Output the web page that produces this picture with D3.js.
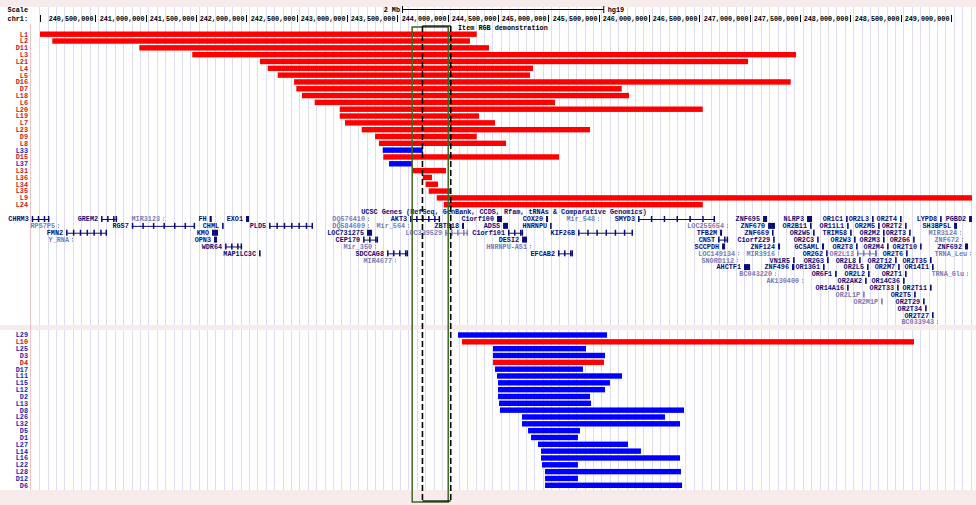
<!DOCTYPE html>
<html>
<head>
<meta charset="utf-8">
<script src="https://cdn.jsdelivr.net/npm/d3@7/dist/d3.min.js"></script>
<style>
  body { margin: 0; background: #fff; }
  svg { display: block; }
  text { font-family: 'Liberation Mono', 'DejaVu Sans Mono', monospace; font-weight: bold; }
</style>
</head>
<body>
<div id="chart"></div>
<script>
// positions are in Mb on chr1 (hg19)
const rulerTicks = [240.5, 241, 241.5, 242, 242.5, 243, 243.5, 244, 244.5, 245, 245.5, 246, 246.5, 247, 247.5, 248, 248.5, 249];

// top "Item RGB demonstration" track
const topLabels = ['L1', 'L2', 'D11', 'L3', 'L21', 'L4', 'L5', 'D16', 'D7', 'L18', 'L6', 'L20', 'L19', 'L7', 'L23', 'D9', 'L8', 'L33', 'D15', 'L37', 'L31', 'L36', 'L34', 'L35', 'L9', 'L24'];
const topStarts = [239.95, 240.072, 240.937, 241.463, 242.136, 242.212, 242.312, 242.474, 242.497, 242.553, 242.679, 242.928, 242.928, 242.980, 243.146, 243.279, 243.318, 243.355, 243.361, 243.418, 243.649, 243.753, 243.782, 243.812, 243.892, 243.961];
const topEnds = [244.289, 244.222, 244.411, 247.462, 246.985, 244.848, 244.819, 247.409, 245.730, 245.802, 245.067, 246.535, 244.312, 244.471, 245.415, 244.289, 244.580, 243.753, 245.107, 243.646, 243.984, 243.845, 243.905, 244.031, 249.210, 246.535];
const topColors = ['r', 'r', 'r', 'r', 'r', 'r', 'r', 'r', 'r', 'r', 'r', 'r', 'r', 'r', 'r', 'r', 'r', 'b', 'r', 'b', 'r', 'r', 'r', 'r', 'r', 'r'];

// bottom track
const botLabels = ['L29', 'L10', 'L25', 'D3', 'D4', 'D17', 'L11', 'L15', 'L12', 'D2', 'L13', 'D8', 'L26', 'L32', 'D5', 'D1', 'L27', 'L14', 'L16', 'L22', 'L28', 'D12', 'D6'];
const botStarts = [244.103, 244.143, 244.451, 244.451, 244.451, 244.471, 244.491, 244.501, 244.501, 244.501, 244.511, 244.520, 244.739, 244.739, 244.799, 244.829, 244.898, 244.928, 244.928, 244.938, 244.968, 244.968, 244.968];
const botEnds = [245.584, 248.634, 245.375, 245.564, 245.554, 245.345, 245.733, 245.613, 245.564, 245.415, 245.425, 246.349, 246.160, 246.309, 245.315, 245.295, 245.792, 245.921, 246.309, 245.295, 246.319, 245.295, 246.329];
const botColors = ['b', 'r', 'b', 'b', 'r', 'b', 'b', 'b', 'b', 'b', 'b', 'b', 'b', 'b', 'b', 'b', 'b', 'b', 'b', 'b', 'b', 'b', 'b'];

// highlighted region (green) and dashed bracket
const highlight = [243.648, 244.006];
const bracket = [243.750, 244.031];

// UCSC genes: [name, row, start, end, noncoding]
const genes = [
  ['CHRM3', 0, 239.868, 240.043, 0], ['GREM2', 0, 240.557, 240.716, 0], ['MIR3123', 0, 241.173, 241.173, 1],
  ['FH', 0, 241.635, 241.657, 0], ['EXO1', 0, 241.997, 242.027, 0], ['DQ576410', 0, 243.209, 243.209, 1],
  ['AKT3', 0, 243.627, 243.925, 0], ['C1orf100', 0, 244.491, 244.541, 0], ['COX20', 0, 244.978, 244.998, 0],
  ['Mir_548', 0, 245.495, 245.495, 1], ['SMYD3', 0, 245.892, 246.657, 0], ['ZNF695', 0, 247.134, 247.174, 0],
  ['NLRP3', 0, 247.571, 247.621, 0], ['OR1C1', 0, 247.959, 247.975, 0], ['OR2L3', 0, 248.217, 248.233, 0],
  ['OR2T4', 0, 248.495, 248.511, 0], ['LYPD8', 0, 248.893, 248.909, 0], ['PGBD2', 0, 249.181, 249.210, 0],

  ['RPS7P5', 1, 240.129, 240.129, 1], ['RGS7', 1, 240.862, 241.491, 0], ['CHML', 1, 241.759, 241.775, 0],
  ['PLD5', 1, 242.226, 242.663, 0], ['DQ584609', 1, 243.209, 243.209, 1], ['Mir_564', 1, 243.607, 243.607, 1],
  ['ZBTB18', 1, 244.143, 244.163, 0], ['ADSS', 1, 244.551, 244.600, 0], ['HNRNPU', 1, 245.018, 245.034, 0],
  ['LOC255654', 1, 246.776, 246.776, 1], ['ZNF670', 1, 247.184, 247.253, 0], ['OR2B11', 1, 247.601, 247.617, 0],
  ['OR11L1', 1, 247.969, 247.985, 0], ['OR2M5', 1, 248.277, 248.293, 0], ['OR2T2', 1, 248.545, 248.561, 0],
  ['SH3BP5L', 1, 249.032, 249.061, 0],

  ['FMN2', 2, 240.209, 240.616, 0], ['KMO', 2, 241.659, 241.719, 0], ['LOC731275', 2, 243.199, 243.249, 0],
  ['LOC339529', 2, 243.975, 244.203, 1], ['C1orf101', 2, 244.600, 244.750, 0], ['KIF26B', 2, 245.296, 245.842, 0],
  ['TFB2M', 2, 246.707, 246.727, 0], ['ZNF669', 2, 247.223, 247.239, 0], ['OR2W5', 2, 247.631, 247.647, 0],
  ['TRIM58', 2, 247.999, 248.015, 0], ['OR2M2', 2, 248.326, 248.342, 0], ['OR2T3', 2, 248.585, 248.601, 0],
  ['MIR3124', 2, 249.092, 249.092, 1],

  ['Y_RNA', 3, 240.268, 240.268, 1], ['OPN3', 3, 241.679, 241.709, 0], ['CEP170', 3, 243.160, 243.309, 0],
  ['DESI2', 3, 244.740, 244.789, 0], ['CNST', 3, 246.687, 246.787, 0], ['C1orf229', 3, 247.234, 247.250, 0],
  ['OR2C3', 3, 247.671, 247.687, 0], ['OR2W3', 3, 248.038, 248.054, 0], ['OR2M3', 3, 248.326, 248.342, 0],
  ['OR2G6', 3, 248.625, 248.641, 0], ['ZNF672', 3, 249.111, 249.111, 1],

  ['WDR64', 4, 241.789, 241.958, 0], ['Mir_350', 4, 243.279, 243.279, 1], ['HNRNPU-AS1', 4, 244.819, 244.819, 1],
  ['SCCPDH', 4, 246.727, 246.757, 0], ['ZNF124', 4, 247.283, 247.303, 0], ['GCSAML', 4, 247.720, 247.740, 0],
  ['OR2T8', 4, 248.058, 248.074, 0], ['OR2M4', 4, 248.366, 248.382, 0], ['OR2T10', 4, 248.694, 248.710, 0],
  ['ZNF692', 4, 249.141, 249.171, 0],

  ['MAP1LC3C', 5, 242.126, 242.142, 0], ['SDCCAG8', 5, 243.398, 243.607, 0], ['EFCAB2', 5, 245.097, 245.246, 0],
  ['LOC149134', 5, 246.886, 246.886, 1], ['MIR3916', 5, 247.283, 247.283, 1], ['OR2G2', 5, 247.760, 247.776, 0],
  ['OR2L13', 5, 248.068, 248.267, 1], ['OR2T6', 5, 248.555, 248.571, 0], ['TRNA_Leu', 5, 249.191, 249.191, 1],

  ['MIR4677', 6, 243.478, 243.478, 1], ['SNORD112', 6, 246.876, 246.876, 1], ['VN1R5', 6, 247.432, 247.448, 0],
  ['OR2G3', 6, 247.770, 247.786, 0], ['OR2L8', 6, 248.088, 248.104, 0], ['OR2T12', 6, 248.446, 248.462, 0],
  ['OR2T35', 6, 248.793, 248.809, 0],

  ['AHCTF1', 7, 246.945, 247.005, 0], ['ZNF496', 7, 247.422, 247.445, 0], ['OR13G1', 7, 247.730, 247.746, 0],
  ['OR2L5', 7, 248.167, 248.183, 0], ['OR2M7', 7, 248.476, 248.492, 0], ['OR14I1', 7, 248.813, 248.829, 0],

  ['BC043220', 8, 247.253, 247.253, 1], ['OR6F1', 8, 247.850, 247.866, 0], ['OR2L2', 8, 248.177, 248.193, 0],
  ['OR2T1', 8, 248.545, 248.561, 0], ['TRNA_Glu', 8, 249.161, 249.161, 1],

  ['AK130400', 9, 247.522, 247.522, 1], ['OR2AK2', 9, 248.148, 248.164, 0], ['OR14C36', 9, 248.525, 248.541, 0],
  ['OR14A16', 10, 247.969, 247.985, 0], ['OR2T33', 10, 248.466, 248.482, 0], ['OR2T11', 10, 248.793, 248.809, 0],
  ['OR2L1P', 11, 248.128, 248.144, 1], ['OR2T5', 11, 248.635, 248.651, 0],
  ['OR2M1P', 12, 248.307, 248.323, 1], ['OR2T29', 12, 248.724, 248.740, 0],
  ['OR2T34', 13, 248.744, 248.760, 0],
  ['OR2T27', 14, 248.813, 248.829, 0],
  ['BC033943', 15, 248.863, 248.863, 1]
];

const W = 976, H = 505;
const RED = '#ff0000', BLUE = '#0000ff';
const RED_LBL = '#c42020', BLUE_LBL = '#1c1cb0';
const GENE = '#0c0c78', GENE_LIGHT = '#7a7ab8';
const PINK = '#f8ebeb';
const fs = 6.8;

const svg = d3.select('#chart').append('svg').attr('width', W).attr('height', H);

const x = d3.scaleLinear().domain([239.95, 249.25]).range([40, 976]);
const topY = d3.scaleLinear().domain([0, topLabels.length - 1]).range([34.2, 204.7]);
const botY = d3.scaleLinear().domain([0, botLabels.length - 1]).range([335, 485.3]);
const geneY = d3.scaleLinear().domain([0, 15]).range([216, 319]);

// background bands
svg.append('rect').attr('x', 0).attr('y', 0).attr('width', W).attr('height', 7).attr('fill', PINK);
svg.append('rect').attr('x', 0).attr('y', 325).attr('width', W).attr('height', 5).attr('fill', PINK);
svg.append('rect').attr('x', 0).attr('y', 490).attr('width', W).attr('height', H - 490).attr('fill', PINK);

// guide lines
const gridG = svg.append('g');
d3.range(39.3, W, 8.39).forEach(gx => {
  [[7, 325], [330, 490]].forEach(([y0, y1]) => {
    gridG.append('line')
      .attr('x1', Math.round(gx) + 0.5).attr('x2', Math.round(gx) + 0.5)
      .attr('y1', y0).attr('y2', y1)
      .attr('stroke', '#dcdcf6').attr('stroke-width', 1);
  });
});
svg.append('line').attr('x1', 30.5).attr('x2', 30.5).attr('y1', 24).attr('y2', 490)
  .attr('stroke', '#f0c4c4').attr('stroke-width', 1);

// scale + ruler
svg.append('text').attr('x', 28).attr('y', 12).attr('text-anchor', 'end')
  .attr('font-size', fs).attr('fill', '#000').text('Scale');
svg.append('text').attr('x', 28).attr('y', 21).attr('text-anchor', 'end')
  .attr('font-size', fs).attr('fill', '#000').text('chr1:');

svg.append('text').attr('x', 400).attr('y', 12).attr('text-anchor', 'end')
  .attr('font-size', fs).attr('fill', '#000').text('2 Mb');
const sbStart = 402.5;
const sbEnd = sbStart + (x(2) - x(0));
svg.append('line').attr('x1', sbStart).attr('x2', sbEnd).attr('y1', 9.5).attr('y2', 9.5).attr('stroke', '#000');
[sbStart, sbEnd].forEach(v => svg.append('line').attr('x1', v).attr('x2', v).attr('y1', 6).attr('y2', 13).attr('stroke', '#000'));
svg.append('text').attr('x', sbEnd + 4).attr('y', 12).attr('font-size', fs).attr('fill', '#000').text('hg19');

svg.append('line').attr('x1', 40.5).attr('x2', 40.5).attr('y1', 15).attr('y2', 22).attr('stroke', '#000');
const ruler = svg.append('g');
rulerTicks.forEach(t => {
  const px = Math.round(x(t)) + 0.5;
  ruler.append('line').attr('x1', px).attr('x2', px).attr('y1', 15).attr('y2', 22).attr('stroke', '#000');
  ruler.append('text').attr('x', px - 2).attr('y', 21).attr('text-anchor', 'end')
    .attr('font-size', fs).attr('fill', '#000').text(d3.format(',')(Math.round(t * 1e6)));
});
svg.append('text').attr('x', 458).attr('y', 29.5).attr('font-size', fs).attr('fill', '#000')
  .text('Item RGB demonstration');

// feature bars
function drawTrack(labels, starts, ends, colors, yScale) {
  const g = svg.append('g');
  const bh = 5.4;
  g.selectAll('rect').data(labels).join('rect')
    .attr('x', (d, i) => x(starts[i]))
    .attr('width', (d, i) => x(ends[i]) - x(starts[i]))
    .attr('y', (d, i) => yScale(i) - bh / 2)
    .attr('height', bh)
    .attr('fill', (d, i) => colors[i] === 'r' ? RED : BLUE);
  g.selectAll('text').data(labels).join('text')
    .attr('x', 28)
    .attr('y', (d, i) => yScale(i) + 2.4)
    .attr('text-anchor', 'end')
    .attr('font-size', fs)
    .attr('fill', (d, i) => colors[i] === 'r' ? RED_LBL : BLUE_LBL)
    .text(d => d);
}
drawTrack(topLabels, topStarts, topEnds, topColors, topY);
drawTrack(botLabels, botStarts, botEnds, botColors, botY);

// UCSC genes track
svg.append('text').attr('x', 504).attr('y', 213.5).attr('text-anchor', 'middle')
  .attr('font-size', fs).attr('fill', GENE)
  .text('UCSC Genes (RefSeq, GenBank, CCDS, Rfam, tRNAs & Comparative Genomics)');

const geneG = svg.append('g');
genes.forEach(([name, row, s, e, light]) => {
  const cy = geneY(row) + 3;
  const x0 = x(s), x1 = Math.max(x(e), x0 + 1.5);
  const col = light ? GENE_LIGHT : GENE;
  if (light && e === s) {
    // tiny non-coding item drawn as a colon-like mark
    geneG.append('rect').attr('x', x0).attr('y', cy - 1.5).attr('width', 1).attr('height', 1).attr('fill', col);
    geneG.append('rect').attr('x', x0).attr('y', cy + 1).attr('width', 1).attr('height', 1).attr('fill', col);
  } else if (x1 - x0 < 7) {
    geneG.append('rect').attr('x', x0).attr('y', cy - 3).attr('width', x1 - x0).attr('height', 6).attr('fill', col);
  } else {
    geneG.append('line').attr('x1', x0).attr('x2', x1).attr('y1', cy + 0.5).attr('y2', cy + 0.5)
      .attr('stroke', col).attr('stroke-width', 1);
    d3.range(x0, x1, Math.max(6, (x1 - x0) / 6)).concat([x1 - 1.5]).forEach(ex => {
      geneG.append('rect').attr('x', ex).attr('y', cy - 3).attr('width', 1.5).attr('height', 6).attr('fill', col);
    });
  }
  geneG.append('text').attr('x', x0 - 3).attr('y', cy + 2.4).attr('text-anchor', 'end')
    .attr('font-size', fs).attr('fill', col).text(name);
});

// highlight box and dashed bracket
svg.append('rect')
  .attr('x', x(highlight[0])).attr('y', 27)
  .attr('width', x(highlight[1]) - x(highlight[0])).attr('height', 475)
  .attr('fill', 'none').attr('stroke', '#3b6a22').attr('stroke-width', 1.5);
bracket.forEach(b => {
  svg.append('line').attr('x1', x(b)).attr('x2', x(b)).attr('y1', 26).attr('y2', 501)
    .attr('stroke', '#000').attr('stroke-width', 1.6).attr('stroke-dasharray', '6,3');
});
[26, 501].forEach(yy => {
  svg.append('line').attr('x1', x(bracket[0])).attr('x2', x(bracket[1])).attr('y1', yy).attr('y2', yy)
    .attr('stroke', '#000').attr('stroke-width', 1.2);
});
</script>
</body>
</html>
